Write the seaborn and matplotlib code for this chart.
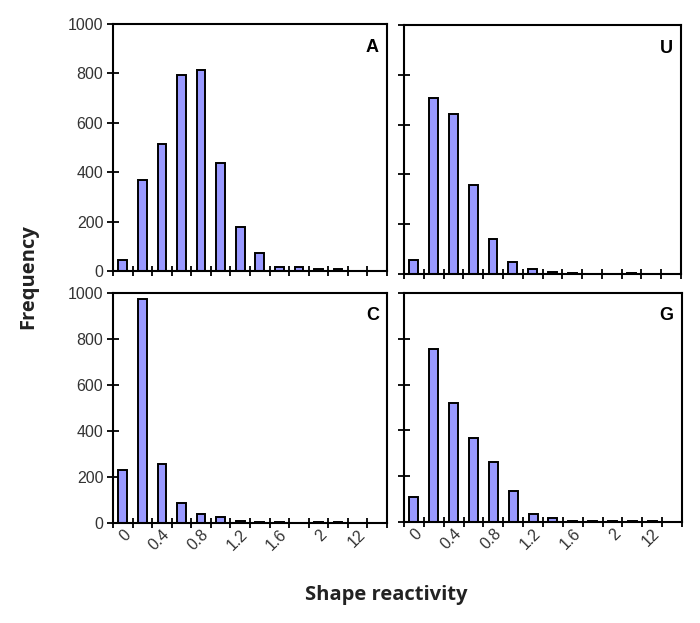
import matplotlib
matplotlib.use("Agg")
import matplotlib.pyplot as plt
import seaborn as sns
import numpy as np
import pandas as pd

categories = ["0", "0.2", "0.4", "0.6", "0.8", "1", "1.2", "1.4", "1.6", "1.8", "2", "4", "12", "20"]
tick_labels = ["0", "", "0.4", "", "0.8", "", "1.2", "", "1.6", "", "2", "", "12", ""]
freq_A = [45, 368, 516, 792, 814, 437, 179, 74, 16, 16, 8, 8, 0, 0]
freq_U = [55, 708, 642, 356, 142, 48, 20, 9, 5, 2, 0, 5, 2, 0]
freq_C = [230, 975, 255, 87, 40, 25, 9, 5, 4, 0, 4, 4, 0, 0]
freq_G = [109, 757, 520, 365, 262, 136, 37, 17, 4, 3, 3, 3, 3, 0]

sns.set_theme(style="white")
plt.rcParams['font.family'] = ['Liberation Sans', 'DejaVu Sans']

fig = plt.figure(figsize=(7.0, 6.23), dpi=100)
W, H = 700, 623

panels = [
    ("A", freq_A, (113, 24, 387, 271), True, False),
    ("U", freq_U, (404, 25, 681, 274), False, False),
    ("C", freq_C, (113, 293, 387, 523), True, True),
    ("G", freq_G, (404, 293, 682, 522), False, True),
]

bar_color = "#9999FF"
for name, vals, (l, t, r, b), show_y, show_x in panels:
    ax = fig.add_axes([l / W, 1 - b / H, (r - l) / W, (b - t) / H])
    df = pd.DataFrame({"cat": categories, "freq": vals})
    sns.barplot(data=df, x="cat", y="freq", ax=ax, color=bar_color, saturation=1,
                edgecolor="black", linewidth=1.4, width=0.45)
    ax.set_xlim(-0.5, len(categories) - 0.5)
    ax.set_ylim(0, 1000)
    ax.set_yticks(np.arange(0, 1001, 200))
    ax.set_xticks(np.arange(len(categories)))
    ax.set_xticks(np.arange(len(categories) + 1) - 0.5, minor=True)
    ax.tick_params(axis="x", which="major", bottom=True, length=0, pad=3)
    ax.tick_params(axis="x", which="minor", bottom=True, length=7, width=1.3,
                   direction="inout", color="black")
    ax.tick_params(axis="y", which="major", left=True, length=8, width=1.3, direction="inout",
                   color="black", labelsize=11.5, labelcolor="#333333", pad=3)
    if show_y:
        ax.set_yticklabels([str(v) for v in range(0, 1001, 200)])
    else:
        ax.set_yticklabels([])
    if show_x:
        ax.set_xticklabels(tick_labels, rotation=45, ha="right", rotation_mode="anchor",
                           fontsize=11.5, color="#333333")
    else:
        ax.set_xticklabels([])
    ax.set_xlabel("")
    ax.set_ylabel("")
    for sp in ax.spines.values():
        sp.set_visible(True)
        sp.set_color("black")
        sp.set_linewidth(1.5)
    ax.grid(False)
    ax.text(0.97, 0.94, name, transform=ax.transAxes, ha="right", va="top",
            fontsize=13, fontweight="bold", color="black")

fig.text(28 / W, 1 - 277 / H, "Frequency", rotation=90, ha="center", va="center",
         fontsize=14.5, fontweight="bold", family=["Open Sans", "DejaVu Sans"], color="#222222")
fig.text(386 / W, 1 - 595 / H, "Shape reactivity", ha="center", va="center",
         fontsize=14.5, fontweight="bold", family=["Open Sans", "DejaVu Sans"], color="#222222")

fig.savefig("out.png", dpi=100)
